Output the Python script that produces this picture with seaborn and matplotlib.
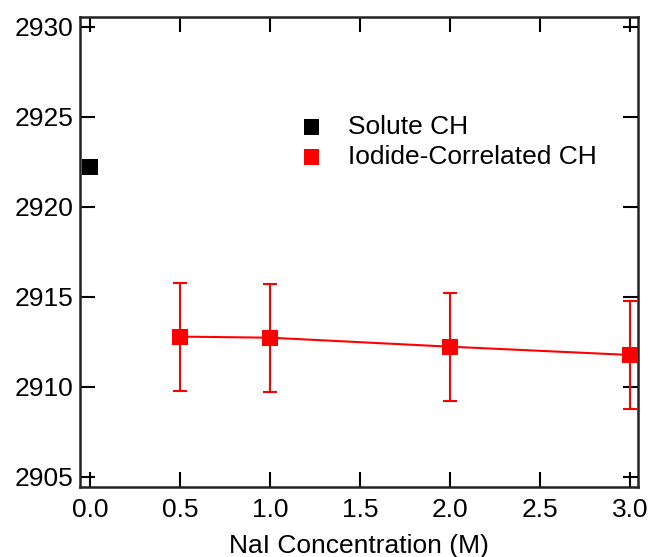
import matplotlib
matplotlib.use("Agg")
import matplotlib.pyplot as plt
import seaborn as sns
import pandas as pd

# data
solute_x = [0.0]
solute_y = [2922.2]
iodide_x = [0.5, 1.0, 2.0, 3.0]
iodide_y = [2912.78, 2912.72, 2912.22, 2911.76]
iodide_err = [3.0, 3.0, 3.0, 3.0]

x_ticks = [0.0, 0.5, 1.0, 1.5, 2.0, 2.5, 3.0]
y_ticks = [2905, 2910, 2915, 2920, 2925, 2930]

sns.set_style("ticks")
plt.rcParams["font.family"] = ["Liberation Sans", "DejaVu Sans"]
plt.rcParams["text.color"] = "black"
plt.rcParams["axes.labelcolor"] = "black"

solute = pd.DataFrame({"conc": solute_x, "freq": solute_y})
iodide = pd.DataFrame({"conc": iodide_x, "freq": iodide_y, "err": iodide_err})

fig = plt.figure(figsize=(6.49, 5.57), dpi=100)
ax = fig.add_axes([0.1233, 0.1262, 0.8593, 0.8433])

# error bars + connecting line for the iodide series
ax.errorbar(iodide["conc"], iodide["freq"], yerr=iodide["err"], fmt="none",
            ecolor="#ff0000", elinewidth=1.5, capsize=5, capthick=1.5, zorder=2)
sns.lineplot(data=iodide, x="conc", y="freq", color="#ff0000", linewidth=1.5,
             ax=ax, zorder=2, legend=False)

sns.scatterplot(data=solute, x="conc", y="freq", marker="s", s=130, color="black",
                edgecolor="none", ax=ax, label="Solute CH", zorder=3)
sns.scatterplot(data=iodide, x="conc", y="freq", marker="s", s=130, color="#ff0000",
                edgecolor="none", ax=ax, label="Iodide-Correlated CH", zorder=3)

ax.set_xlim(-0.056, 3.043)
ax.set_ylim(2904.44, 2930.54)
ax.set_xticks(x_ticks)
ax.set_xticklabels([f"{v:.1f}" for v in x_ticks])
ax.set_yticks(y_ticks)
ax.set_xlabel("NaI Concentration (M)", fontsize=19, labelpad=9)
ax.set_ylabel("")

ax.tick_params(direction="in", length=10.5, width=1.5, labelsize=19,
               top=True, right=True, color="black", labelcolor="black")
ax.tick_params(axis="x", pad=8)
ax.tick_params(axis="y", pad=5)
for sp in ax.spines.values():
    sp.set_visible(True)
    sp.set_linewidth(1.8)
    sp.set_color("#222222")

ax.legend(loc="upper left", bbox_to_anchor=(301 / 649, 1 - 115 / 557),
          bbox_transform=fig.transFigure, frameon=False, fontsize=19,
          handlelength=0.8, handletextpad=0.97, labelspacing=0.22,
          borderpad=0, borderaxespad=0, markerscale=1.0)

fig.savefig("out.png", dpi=100)
